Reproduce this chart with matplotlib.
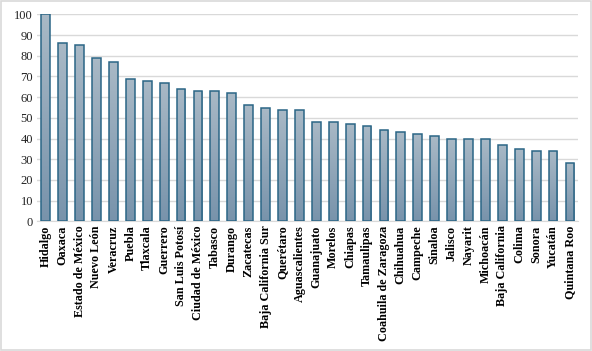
import matplotlib
matplotlib.use('Agg')
import matplotlib.pyplot as plt
import matplotlib.patches as mpatches
import numpy as np

# states and values
states = [
    'Hidalgo', 'Oaxaca', 'Estado de México', 'Nuevo León', 'Veracruz',
    'Puebla', 'Tlaxcala', 'Guerrero', 'San Luis Potosí', 'Ciudad de México',
    'Tabasco', 'Durango', 'Zacatecas', 'Baja California Sur', 'Querétaro',
    'Aguascalientes', 'Guanajuato', 'Morelos', 'Chiapas', 'Tamaulipas',
    'Coahuila de Zaragoza', 'Chihuahua', 'Campeche', 'Sinaloa', 'Jalisco',
    'Nayarit', 'Michoacán', 'Baja California', 'Colima', 'Sonora',
    'Yucatán', 'Quintana Roo',
]
values = [
    100, 86, 85, 79, 77,
    69, 68, 67, 64, 63,
    63, 62, 56, 55, 54,
    54, 48, 48, 47, 46,
    44, 43, 42, 41, 40,
    40, 40, 37, 35, 34,
    34, 28,
]
yticks = list(range(0, 101, 10))

fig = plt.figure(figsize=(5.92, 3.51), dpi=100)
ax = fig.add_axes([0.063, 0.3695, 0.914, 0.5895])

x = np.arange(len(states))
bars = ax.bar(x, values, width=0.52, color='none', edgecolor='#2b6686',
              linewidth=1.1, zorder=3)

# vertical gradient inside each bar (light at top, darker at bottom)
grad = np.linspace(0, 1, 256).reshape(-1, 1)
cmap = matplotlib.colors.LinearSegmentedColormap.from_list(
    'bargrad', ['#7893ab', '#a9b9c6'])
for b in bars:
    x0, y0 = b.get_x(), b.get_y()
    w, h = b.get_width(), b.get_height()
    im = ax.imshow(grad, cmap=cmap, origin='lower', aspect='auto',
                   extent=[x0, x0 + w, y0, y0 + h], zorder=2)
    im.set_clip_path(b)

ax.set_xlim(-0.5, len(states) - 0.5)
ax.set_ylim(0, 100)
ax.set_yticks(yticks)
ax.set_yticklabels([str(t) for t in yticks], fontsize=9,
                   family='Liberation Serif', color='#222222')
ax.set_xticks(x)
ax.set_xticklabels(states, rotation=90, fontsize=8.7, fontweight='bold',
                   family='Liberation Serif')

ax.grid(axis='y', color='#d9d9d9', linewidth=1, zorder=0)
ax.set_axisbelow(True)
for s in ['top', 'right', 'left']:
    ax.spines[s].set_visible(False)
ax.spines['bottom'].set_color('#d9d9d9')
ax.tick_params(axis='both', length=0, pad=3)

# light border round the whole chart
fig.patches.append(mpatches.Rectangle((0.002, 0.003), 0.996, 0.994,
                                      transform=fig.transFigure, fill=False,
                                      edgecolor='#d9d9d9', linewidth=1.2))

fig.savefig('out.png', dpi=100)
